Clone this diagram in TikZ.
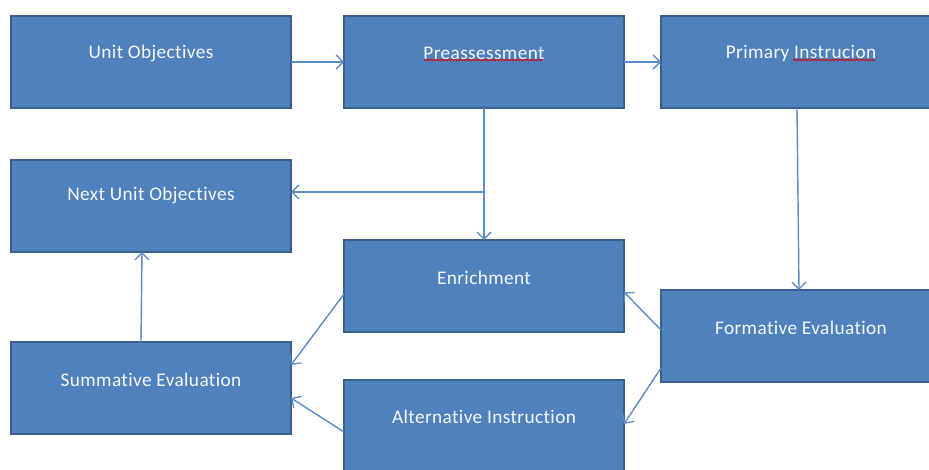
\documentclass[tikz,border=0pt]{standalone}
\usepackage{fontspec}
\setmainfont{Carlito}[Ligatures={NoCommon}, LetterSpace=2]
\usetikzlibrary{arrows.meta,calc,decorations.pathmorphing}
\definecolor{boxfill}{HTML}{4F81BD}
\definecolor{boxedge}{HTML}{3A5F8C}
\definecolor{linkblue}{HTML}{5B8CC8}
\tikzset{
  stage/.style={draw=boxedge, line width=2pt, fill=boxfill, rectangle,
    minimum width=280pt, minimum height=92pt, inner sep=0pt, outer sep=0pt},
  caption/.style={text=white!94!boxfill, inner sep=0pt, font=\fontsize{19.3}{23}\selectfont},
  link/.style={draw=linkblue, line width=1.4pt,
    -{Straight Barb[length=7pt,width=14pt,line width=1.3pt]}},
  spell/.style={draw=red!85!black, line width=0.7pt,
    decorate, decoration={snake, amplitude=0.9pt, segment length=3pt}}
}
\begin{document}
\begin{tikzpicture}[x=1pt, y=-1pt]
  \useasboundingbox (0,0) rectangle (929,469);
  \clip (0,0) rectangle (929,469);
  \fill[white] (0,0) rectangle (929,469);

  % stage boxes
  \node[stage] (uo)  at (151,62)  {};
  \node[stage] (pre) at (484,62)  {};
  \node[stage] (pi)  at (801,62)  {};
  \node[stage] (nuo) at (151,206) {};
  \node[stage] (en)  at (484,286) {};
  \node[stage] (fe)  at (801,336) {};
  \node[stage] (se)  at (151,388) {};
  \node[stage] (ai)  at (484,426) {};

  % captions in the upper part of each box
  \node[caption] (uot)  at ([yshift=-37pt]uo.north)  {Unit Objectives};
  \node[caption] (pret) at ([yshift=-37pt]pre.north) {Preassessment};
  \node[caption] (pit)  at ([yshift=-37pt]pi.north)  {Primary Instrucion};
  \node[caption] (nuot) at ([yshift=-35pt]nuo.north) {Next Unit Objectives};
  \node[caption] (ent)  at ([yshift=-38pt]en.north)  {Enrichment};
  \node[caption] (fet)  at ([yshift=-38pt]fe.north)  {Formative Evaluation};
  \node[caption] (set)  at ([yshift=-38pt]se.north)  {Summative Evaluation};
  \node[caption] (ait)  at ([yshift=-37pt]ai.north)  {Alternative Instruction};

  % spell-check squiggles
  \draw[spell] (424,60) -- (543,60);
  \draw[spell] (793,60) -- (875,60);

  % connectors
  \draw[link] (uo.east) -- (pre.west);
  \draw[link] (pre.east) -- (pi.west);
  \draw[link] (pre.south) -- (en.north);
  \coordinate (j) at ($(pre.south)!0.636!(en.north)$);
  \draw[link] (j) -- (j -| nuo.east);
  \draw[link] ([xshift=-4pt]pi.south) -- ([xshift=-2pt]fe.north);
  \draw[link] ([yshift=6pt]fe.west) -- ([yshift=-6pt]en.east);
  \draw[link] ([yshift=-32pt]fe.west) -- ([yshift=2pt]ai.east);
  \draw[link] ([yshift=-8pt]en.west) -- ([yshift=23pt]se.east);
  \draw[link] ([yshift=-6pt]ai.west) -- ([yshift=-10pt]se.east);
  \draw[link] ([xshift=-10pt]se.north) -- ([xshift=-9pt]nuo.south);
\end{tikzpicture}
\end{document}
